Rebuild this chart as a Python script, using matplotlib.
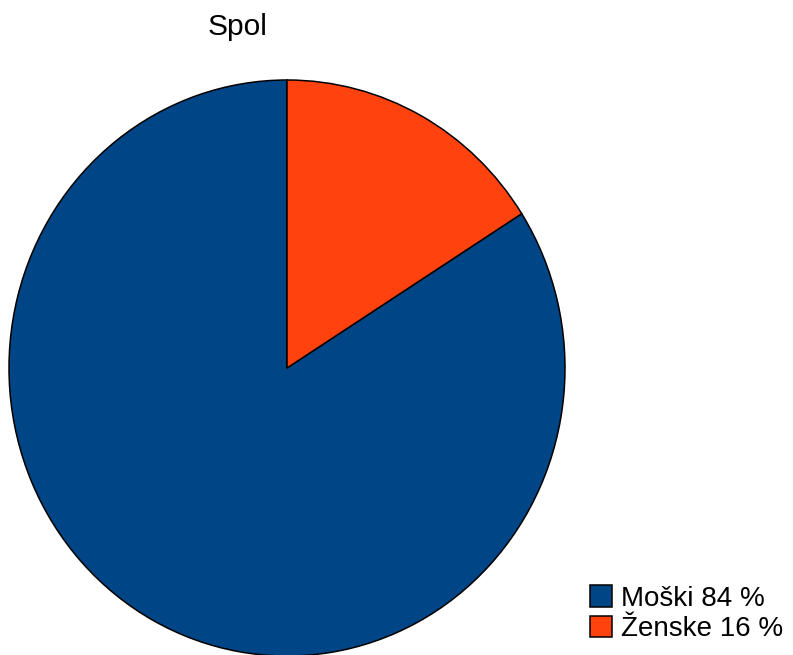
import matplotlib
matplotlib.use('Agg')
import matplotlib.pyplot as plt

# データ
labels = ['Moški 84 %', 'Ženske 16 %']
values = [84, 16]
colors = ['#004586', '#ff420e']
title = 'Spol'

plt.rcParams['font.family'] = ['Liberation Sans', 'DejaVu Sans']

W, H = 793, 655
fig = plt.figure(figsize=(W / 100, H / 100), dpi=100)

# 円グラフ (横長の楕円になるよう aspect を auto に)
ax = fig.add_axes([9 / W, -1 / H, 556 / W, 576 / H])
wedges, _ = ax.pie(values, colors=colors, startangle=90, counterclock=True,
                   wedgeprops=dict(edgecolor='black', linewidth=1.1))
ax.set_aspect('auto')
ax.set_xlim(-1, 1)
ax.set_ylim(-1, 1)
ax.axis('off')

# タイトル
fig.text(238 / W, 1 - 27 / H, title, ha='center', va='center', fontsize=21.5)

# 凡例
fig.legend(wedges, labels, loc='lower left',
           bbox_to_anchor=(590 / W, 13 / H), fontsize=20, frameon=False,
           handlelength=0.8, handleheight=0.8, handletextpad=0.3,
           labelspacing=0.15, borderpad=0, borderaxespad=0)

plt.savefig('out.png', dpi=100)
plt.close()
